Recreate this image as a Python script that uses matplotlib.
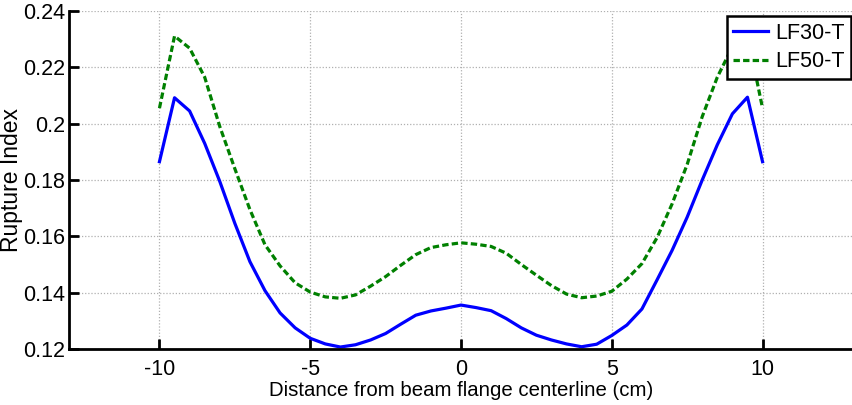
import matplotlib
matplotlib.use("Agg")
import matplotlib.pyplot as plt

x = [-10, -9.5, -9, -8.5, -8, -7.5, -7, -6.5, -6, -5.5, -5, -4.5, -4, -3.5, -3, -2.5, -2, -1.5, -1, -0.5,
     0, 0.5, 1, 1.5, 2, 2.5, 3, 3.5, 4, 4.5, 5, 5.5, 6, 6.5, 7, 7.5, 8, 8.5, 9, 9.5, 10]
lf30 = [0.1865, 0.2092, 0.2045, 0.1930, 0.1795, 0.1646, 0.1510, 0.1407, 0.1328, 0.1275, 0.1238, 0.1218,
        0.1207, 0.1215, 0.1232, 0.1255, 0.1288, 0.1320, 0.1335, 0.1345,
        0.1356, 0.1347, 0.1336, 0.1308, 0.1275, 0.1249, 0.1232, 0.1218, 0.1208, 0.1217, 0.1248, 0.1285,
        0.1342, 0.1445, 0.1550, 0.1668, 0.1800, 0.1925, 0.2035, 0.2094, 0.1865]
lf50 = [0.2055, 0.2311, 0.2268, 0.2165, 0.1990, 0.1840, 0.1695, 0.1570, 0.1495, 0.1435, 0.1402, 0.1385,
        0.1380, 0.1392, 0.1423, 0.1457, 0.1497, 0.1535, 0.1560, 0.1570,
        0.1577, 0.1572, 0.1564, 0.1540, 0.1500, 0.1462, 0.1425, 0.1395, 0.1382, 0.1388, 0.1405, 0.1448,
        0.1503, 0.1595, 0.1715, 0.1855, 0.2025, 0.2165, 0.2273, 0.2315, 0.2055]
xticks = [-10, -5, 0, 5, 10]
xtick_labels = ["-10", "-5", "0", "5", "10"]
yticks = [0.12, 0.14, 0.16, 0.18, 0.2, 0.22, 0.24]
ytick_labels = ["0.12", "0.14", "0.16", "0.18", "0.2", "0.22", "0.24"]

plt.rcParams['font.family'] = ['Liberation Sans', 'DejaVu Sans']
plt.rcParams['axes.unicode_minus'] = False

fig = plt.figure(figsize=(8.53, 4.05), dpi=100)
ax = fig.add_axes([69/853, 56/405, 1 - 69/853, 338/405])

ax.plot(x, lf30, color='#0000FF', lw=2.3, label='LF30-T')
ax.plot(x, lf50, color='#008000', lw=2.3, ls=(0, (2.0, 1.0)), label='LF50-T')

ax.set_xlim(-13, 13)
ax.set_ylim(0.12, 0.24)
ax.set_xticks(xticks)
ax.set_xticklabels(xtick_labels)
ax.set_yticks(yticks)
ax.set_yticklabels(ytick_labels)
ax.grid(True, color='#b0b0b0', ls=(0, (1, 1.5)), lw=0.9)
ax.set_axisbelow(True)

for s in ['top', 'right']:
    ax.spines[s].set_visible(False)
for s in ['left', 'bottom']:
    ax.spines[s].set_linewidth(2)
ax.tick_params(direction='in', length=7, width=2, labelsize=15.5, colors='black')
ax.tick_params(axis='x', pad=7)
ax.tick_params(axis='y', pad=3)

ax.set_xlabel('Distance from beam flange centerline (cm)', fontsize=14.7, labelpad=1)
ax.set_ylabel('Rupture Index', fontsize=16.5)
ax.yaxis.set_label_coords(-0.059, 0.5)

leg = ax.legend(loc='upper right', bbox_to_anchor=(0.9975, 0.985), borderaxespad=0,
                fontsize=15.5, fancybox=False, framealpha=1, edgecolor='black',
                handlelength=1.6, handletextpad=0.35, borderpad=0.3, labelspacing=0.35)
leg.get_frame().set_linewidth(1.8)

fig.savefig('out.png', dpi=100)
